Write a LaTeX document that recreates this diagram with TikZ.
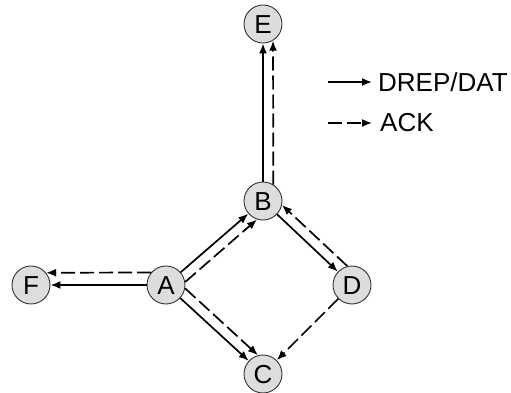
\documentclass[tikz,border=0pt]{standalone}
\usepackage{fontspec}
\setmainfont{Liberation Sans}
\usetikzlibrary{arrows.meta}
\definecolor{nodefill}{RGB}{221,221,221}
\definecolor{nodeline}{RGB}{50,50,50}
\tikzset{
  vnode/.style={circle, draw=nodeline, line width=0.9pt, fill=nodefill,
    minimum size=38pt, inner sep=0pt, text height=18.6pt, text depth=0pt,
    font=\fontsize{26}{31}\selectfont},
  datedge/.style={line width=1.7pt, -{Latex[length=10pt,width=8pt]}},
  ackedge/.style={line width=1.7pt, dash pattern=on 14pt off 5pt, -{Latex[length=10pt,width=8pt]}},
  legtext/.style={anchor=west, inner sep=0pt, font=\fontsize{26}{31}\selectfont}
}
\begin{document}
\begin{tikzpicture}[x=1pt,y=1pt]
\useasboundingbox (0,0) rectangle (511,393);
\node[vnode] (E) at (263,369) {E};
\node[vnode] (B) at (263,192) {B};
\node[vnode] (A) at (166,108) {A};
\node[vnode] (F) at (31,108) {F};
\node[vnode] (D) at (352,108) {D};
\node[vnode] (C) at (263,19) {C};
% solid DREP/DAT
\draw[datedge] (B) -- (E);
\draw[datedge] (A) -- (F);
\draw[datedge] (A) -- (B);
\draw[datedge] (A) -- (C);
\draw[datedge] (B) -- (D);
% dashed ACK
\draw[ackedge] (B.58.2) -- (E.301.8);
\draw[ackedge] (A.140.8) -- (F.39.2);
\draw[ackedge] (A.9.1) -- (B.252.7);
\draw[ackedge] (A.-10.7) -- (C.105.7);
\draw[ackedge] (D.104.9) -- (B.348.5);
\draw[ackedge] (D) -- (C);
% legend
\node[legtext] (L1) at (378,311) {DREP/DAT};
\node[legtext] (L2) at (380,270) {ACK};
\coordinate (L1s) at (328,311);
\coordinate (L2s) at (328,270);
\draw[datedge] (L1s) -- ([xshift=-6pt]L1.west);
\draw[ackedge] (L2s) -- ([xshift=-8pt]L2.west);
\end{tikzpicture}
\end{document}
